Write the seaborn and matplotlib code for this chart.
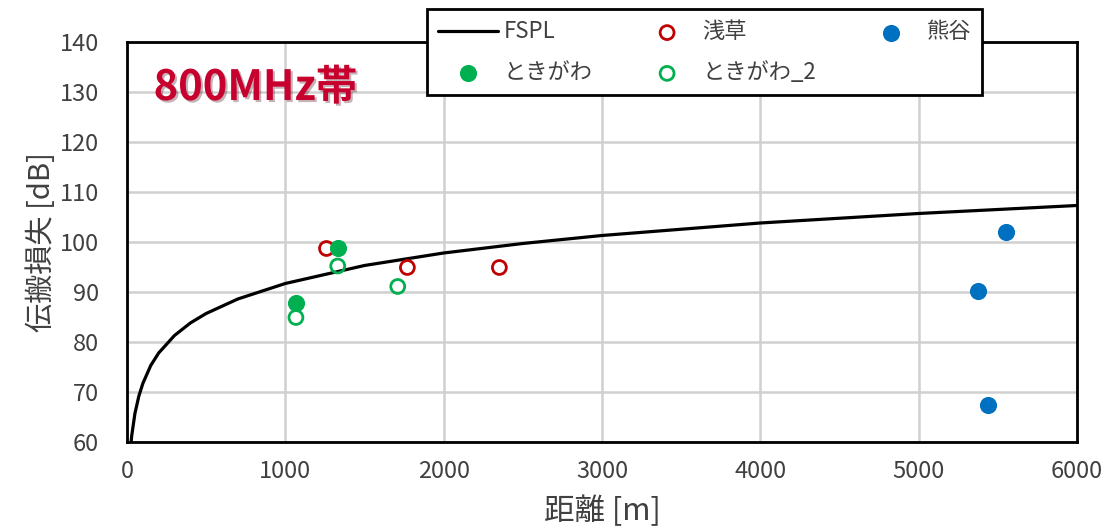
import matplotlib
matplotlib.use('Agg')
import matplotlib.pyplot as plt
import matplotlib.patheffects as pe
import seaborn as sns

# FSPL curve
fspl_d = [25, 30, 50, 75, 100, 150, 200, 300, 400, 500, 700, 1000,
          1500, 2000, 2500, 3000, 4000, 5000, 6000]
fspl_loss = [59.7, 61.3, 65.7, 69.2, 71.7, 75.3, 77.8, 81.3, 83.8, 85.7, 88.6, 91.7,
             95.3, 97.8, 99.7, 101.3, 103.8, 105.7, 107.3]

# measured points
asakusa_d = [1260, 1771, 2352]
asakusa_loss = [98.7, 94.9, 94.9]

kumagaya_d = [5552, 5377, 5440]
kumagaya_loss = [102.0, 90.1, 67.4]

tokigawa_d = [1335, 1067]
tokigawa_loss = [98.7, 87.7]

tokigawa2_d = [1331, 1710, 1067]
tokigawa2_loss = [95.2, 91.1, 84.9]

RED = '#C00000'
GREEN = '#00B050'
BLUE = '#0070C0'
TXT = '#404040'

sns.set_style('white')
plt.rcParams['font.family'] = ['Noto Sans CJK JP', 'DejaVu Sans']

fig = plt.figure(figsize=(11.16, 5.29), dpi=100)
ax = fig.add_axes([0.1138, 0.1645, 0.8512, 0.7561])

sns.lineplot(x=fspl_d, y=fspl_loss, color='black', linewidth=2.3, ax=ax,
             label='FSPL', sort=False)
sns.scatterplot(x=asakusa_d, y=asakusa_loss, ax=ax, label='浅草', s=100,
                facecolor='none', edgecolor=RED, linewidth=2.0, zorder=4)
sns.scatterplot(x=kumagaya_d, y=kumagaya_loss, ax=ax, label='熊谷', s=130,
                color=BLUE, edgecolor=BLUE, zorder=4)
sns.scatterplot(x=tokigawa_d, y=tokigawa_loss, ax=ax, label='ときがわ', s=130,
                color=GREEN, edgecolor=GREEN, zorder=4)
sns.scatterplot(x=tokigawa2_d, y=tokigawa2_loss, ax=ax, label='ときがわ_2', s=100,
                facecolor='none', edgecolor=GREEN, linewidth=2.0, zorder=4)

ax.set_xlim(0, 6000)
ax.set_ylim(60, 140)
ax.set_xticks(range(0, 6001, 1000))
ax.set_yticks(range(60, 141, 10))
ax.grid(True, color='#D0D0D0', linewidth=1.8)
ax.set_axisbelow(True)
for s in ax.spines.values():
    s.set_color('black')
    s.set_linewidth(2)
ax.tick_params(length=0, labelsize=17, labelcolor=TXT)
ax.tick_params(axis='x', pad=13)
ax.tick_params(axis='y', pad=20)

ax.set_xlabel('距離 [m]', fontsize=22, color=TXT, labelpad=9)
ax.set_ylabel('伝搬損失 [dB]', fontsize=21, color=TXT, labelpad=2)

ax.text(0.028, 0.885, '800MHz帯', transform=ax.transAxes, fontsize=30,
        fontweight='bold', color='#C8002E', va='center',
        path_effects=[pe.SimplePatchShadow(offset=(1.5, -1.5), alpha=0.3), pe.Normal()])

# legend order: FSPL, ときがわ | 浅草, ときがわ_2 | 熊谷
handles, labels = ax.get_legend_handles_labels()
order = ['FSPL', 'ときがわ', '浅草', 'ときがわ_2', '熊谷']
hmap = dict(zip(labels, handles))
ax.get_legend().remove()
leg = fig.legend([hmap[k] for k in order], order, ncol=3,
                 loc='upper left', bbox_to_anchor=(0.3826, 0.9824),
                 borderaxespad=0, frameon=True, fancybox=False, fontsize=16,
                 columnspacing=2.0, handlelength=2.7, handletextpad=0.25,
                 borderpad=0.5, labelspacing=0.8)
leg.get_frame().set_edgecolor('black')
leg.get_frame().set_linewidth(2)
leg.get_frame().set_alpha(1)
for t in leg.get_texts():
    t.set_color(TXT)

fig.savefig('out.png', dpi=100)
